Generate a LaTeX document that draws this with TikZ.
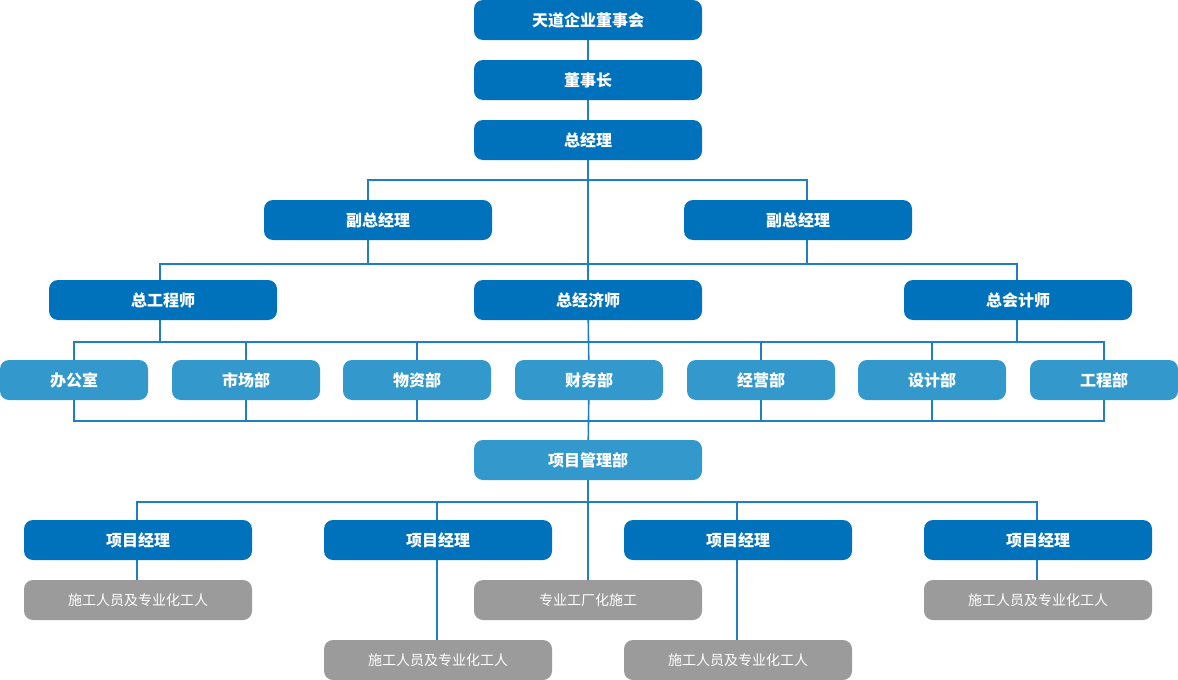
\documentclass[tikz,border=0pt]{standalone}
\usepackage{fontspec}
\newfontfamily\cjk{Noto Sans CJK SC}
\usetikzlibrary{backgrounds}
\definecolor{darkblue}{HTML}{0072BC}
\definecolor{lightblue}{HTML}{3399CC}
\definecolor{greybox}{HTML}{9B9B9B}
\definecolor{linkblue}{HTML}{1F7FC0}
\begin{document}
\begin{tikzpicture}[
  x=1pt, y=-1pt,
  every node/.style={font=\cjk},
  box/.style={fill=darkblue, text=white, rounded corners=9pt, minimum width=228pt, minimum height=40pt, inner sep=0pt, font=\cjk\bfseries\fontsize{16}{18}\selectfont},
  dept/.style={box, fill=lightblue, minimum width=148pt},
  crew/.style={box, fill=greybox, font=\cjk\fontsize{14}{16}\selectfont},
  link/.style={draw=linkblue, line width=1.6pt}
]
\useasboundingbox (0,0) rectangle (1178,680);

% Top
\node[box] (board) at (588,20) {天道企业董事会};
\node[box] (chair) at (588,80) {董事长};
\node[box] (gm) at (588,140) {总经理};

% Deputies
\node[box] (vpa) at (378,220) {副总经理};
\node[box] (vpb) at (798,220) {副总经理};

% Chiefs
\node[box] (engineer) at (163,300) {总工程师};
\node[box] (economist) at (588,300) {总经济师};
\node[box] (accountant) at (1018,300) {总会计师};

% Departments
\node[dept] (office) at (74,380) {办公室};
\node[dept] (market) at (246,380) {市场部};
\node[dept] (supply) at (417,380) {物资部};
\node[dept] (finance) at (589,380) {财务部};
\node[dept] (business) at (761,380) {经营部};
\node[dept] (design) at (932,380) {设计部};
\node[dept] (works) at (1104,380) {工程部};
\node[dept, minimum width=228pt] (project) at (588,460) {项目管理部};

% Project managers
\node[box] (pma) at (138,540) {项目经理};
\node[box] (pmb) at (438,540) {项目经理};
\node[box] (pmc) at (738,540) {项目经理};
\node[box] (pmd) at (1038,540) {项目经理};

% Crews
\node[crew] (crewa) at (138,600) {施工人员及专业化工人};
\node[crew] (prefab) at (588,600) {专业工厂化施工};
\node[crew] (crewd) at (1038,600) {施工人员及专业化工人};
\node[crew] (crewb) at (438,660) {施工人员及专业化工人};
\node[crew] (crewc) at (738,660) {施工人员及专业化工人};

% Links
\begin{scope}[on background layer]
\draw[link] (board) -- (chair) -- (gm) -- (economist);
\draw[link] ([xshift=-10pt]vpa.north) |- (588,180) -| ([xshift=9pt]vpb.north);
\draw[link] ([xshift=-10pt]vpa.south) |- (588,264);
\draw[link] ([xshift=9pt]vpb.south) |- (588,264);
\draw[link] ([xshift=-3pt]engineer.north) |- (588,264) -| ([xshift=-1pt]accountant.north);
\draw[link] ([xshift=-3pt]engineer.south) -- ([xshift=-3pt]engineer.south |- 0,342);
\draw[link] ([xshift=-1pt]accountant.south) -- ([xshift=-1pt]accountant.south |- 0,342);
\draw[link] (economist) -- (finance);
\draw[link] (office.north) |- (589,342) -| (works.north);
\foreach \d in {market,supply,business,design}
  \draw[link] (\d.north) -- (\d.north |- 0,342);
\draw[link] (office.south) |- (589,421) -| (works.south);
\foreach \d in {market,supply,business,design}
  \draw[link] (\d.south) -- (\d.south |- 0,421);
\draw[link] (finance) -- (project);
\draw[link] (project) -- (prefab);
\draw[link] ([xshift=-1pt]pma.north) |- (588,502) -| ([xshift=-1pt]pmd.north);
\draw[link] ([xshift=-1pt]pmb.north) -- ([xshift=-1pt]pmb.north |- 0,502);
\draw[link] ([xshift=-1pt]pmc.north) -- ([xshift=-1pt]pmc.north |- 0,502);
\draw[link] ([xshift=-1pt]pma.south) -- ([xshift=-1pt]crewa.north);
\draw[link] ([xshift=-1pt]pmb.south) -- ([xshift=-1pt]crewb.north);
\draw[link] ([xshift=-1pt]pmc.south) -- ([xshift=-1pt]crewc.north);
\draw[link] ([xshift=-1pt]pmd.south) -- ([xshift=-1pt]crewd.north);
\end{scope}
\end{tikzpicture}
\end{document}
